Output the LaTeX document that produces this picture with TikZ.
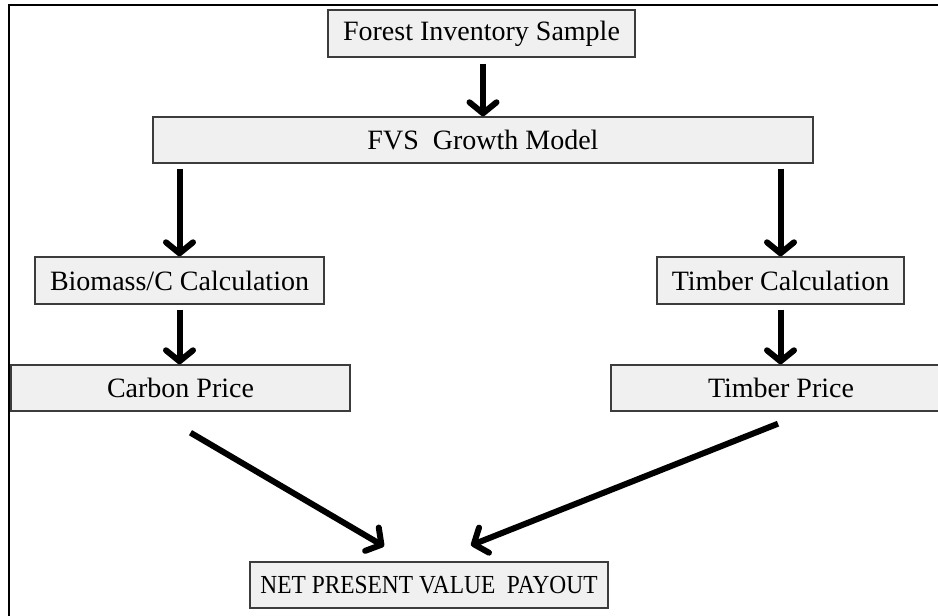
\documentclass[tikz,border=0pt]{standalone}
\usepackage{fontspec}
\setmainfont{Liberation Serif}
\usetikzlibrary{arrows.meta,calc}
\definecolor{boxfill}{HTML}{F0F0F0}
\definecolor{boxline}{HTML}{3C3C3C}
\tikzset{
  stage/.style={draw=boxline, line width=1.4pt, fill=boxfill, rectangle,
    inner sep=0pt, font=\fontsize{28}{30}\selectfont, text=black},
  flow/.style={line width=6pt, -{Straight Barb[length=11pt,width=27pt,round]}},
  frame/.style={line width=2.2pt, black}
}
\begin{document}
\begin{tikzpicture}[x=1pt,y=-1pt]
  \useasboundingbox (0,0) rectangle (938,616);
  \clip (0,0) rectangle (938,616);

  % outer frame (open at right and bottom)
  \draw[frame] (9,640) -- (9,5.3) -- (960,5.3);

  % stages
  \node[stage, minimum width=307pt, minimum height=47pt] (fis) at (481.5,33.5) {Forest Inventory Sample};
  \node[stage, minimum width=660pt, minimum height=46pt] (fvs) at (483,140) {FVS\ \ Growth Model};
  \node[stage, minimum width=289pt, minimum height=47pt] (bio) at (179.5,280.5) {Biomass/C Calculation};
  \node[stage, minimum width=247pt, minimum height=47pt] (tcalc) at (780.5,280.5) {Timber Calculation};
  \node[stage, minimum width=339pt, minimum height=46pt] (cp) at (180.5,388) {Carbon Price};
  \node[stage, minimum width=340pt, minimum height=46pt] (tp) at (781,388) {Timber Price};
  \node[stage, minimum width=358pt, minimum height=46pt] (npv) at (429,585)
    {\scalebox{0.9}[1]{\fontsize{26}{28}\selectfont NET PRESENT VALUE\ \ PAYOUT}};

  % vertical flows
  \draw[flow, shorten <=6pt] (fis.south -| fvs.north) -- (fvs.north);
  \draw[flow, shorten <=5pt] (fvs.south -| bio.north) -- (bio.north);
  \draw[flow, shorten <=5pt] (fvs.south -| tcalc.north) -- (tcalc.north);
  \draw[flow, shorten <=5pt] (bio.south) -- (bio.south |- cp.north);
  \draw[flow, shorten <=5pt] (tcalc.south) -- (tcalc.south |- tp.north);

  % converging flows into the payout
  \coordinate (cpout) at ($(cp.south)+(10,21)$);
  \coordinate (tpout) at ($(tp.south)+(-3,12)$);
  \coordinate (npvinL) at ($(npv.north)+(-45,-15)$);
  \coordinate (npvinR) at ($(npv.north)+(42,-16)$);
  \draw[flow] (cpout) -- (npvinL);
  \draw[flow] (tpout) -- (npvinR);
\end{tikzpicture}
\end{document}
